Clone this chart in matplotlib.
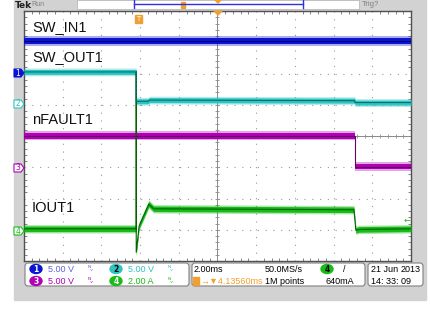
import numpy as np
import matplotlib
matplotlib.use("Agg")
import matplotlib.pyplot as plt
from matplotlib.patches import Rectangle, FancyBboxPatch, Ellipse, Polygon

# scope traces, time in ms (2 ms/div), level in divisions from screen centre
t_in = [-10, 10]
sw_in = [3.04, 3.04]

t_out = [-10, -4.2, -4.2, -3.6, -3.5, 7.1, 7.1, 10]
sw_out = [2.05, 2.05, 1.11, 1.11, 1.15, 1.13, 1.07, 1.07]

t_flt = [-10, 7.1, 7.1, 10]
nfault = [0.01, 0.01, -0.98, -0.98]

t_iout = [-10, -4.2, -4.2, -4.2, -4.05, -3.55, -3.3, 7.05, 7.15, 7.3, 10]
iout = [-2.97, -2.97, 2.05, -3.72, -2.88, -2.18, -2.33, -2.36, -3.02, -2.99, -2.97]

labels = ["SW_IN1", "SW_OUT1", "nFAULT1", "IOUT1"]
label_px_y = [31, 61, 124, 212]

ch_names = ["1", "2", "3", "4"]
ch_scale = ["5.00 V", "5.00 V", "5.00 V", "2.00 A"]
ch_marker_y = [73, 104, 168, 231]

timebase = "2.00ms"
trig_pos = "4.13560ms"
sample_rate = "50.0MS/s"
rec_len = "1M points"
trig_level = "640mA"
date_str = "21 Jun"
year_str = "2013"
time_str = "14: 33: 09"

c_blue, c_blue_d = "#0a14d2", "#000078"
c_cyan, c_cyan_d = "#2ec4c4", "#007070"
c_purp, c_purp_d = "#b000b4", "#6a006c"
c_green, c_green_d = "#18bc18", "#006400"
c_orange = "#f0a030"
narrow = ["Liberation Sans Narrow", "DejaVu Sans Condensed", "Liberation Sans", "DejaVu Sans"]

W, H = 431, 310
fig = plt.figure(figsize=(W / 100, H / 100), dpi=100)
fig.patch.set_facecolor("white")

# background axes in pixel units
bg = fig.add_axes([0, 0, 1, 1])
bg.set_xlim(0, W)
bg.set_ylim(H, 0)
bg.axis("off")
bg.add_patch(Rectangle((14, 0), 412, 300, color="#d2d2d2", zorder=0))

# scope screen
ax = fig.add_axes([24 / W, 1 - 261 / H, 387 / W, 250 / H])
ax.set_xlim(-10, 10)
ax.set_ylim(-4, 4)
ax.set_facecolor("white")
ax.set_xticks(np.arange(-10, 10.1, 2))
ax.set_yticks(np.arange(-4, 4.1, 1))
ax.set_xticks(np.arange(-10, 10.1, 0.4), minor=True)
ax.set_yticks(np.arange(-4, 4.1, 0.2), minor=True)
ax.tick_params(which="both", direction="in", top=True, right=True,
               labelbottom=False, labelleft=False, color="#707070")
ax.tick_params(which="major", length=0)
ax.tick_params(which="minor", length=2.5, width=0.6)
ax.grid(True, which="major", color="#9a9a9a", ls=(0, (1, 6)), lw=0.8)
for s in ax.spines.values():
    s.set_color("#505050")
    s.set_linewidth(1)
ax.plot(np.arange(-10, 10.01, 0.4), np.zeros(51), color="#8a8a8a", lw=0.7,
        marker="|", ms=3, mew=0.6)
ax.plot(np.zeros(41), np.arange(-4, 4.01, 0.2), color="#8a8a8a", lw=0.7,
        marker="_", ms=3, mew=0.6)


def trace(t, v, band, core, half):
    v = np.asarray(v)
    # faint noise envelope, solid band, darker centre
    ax.fill_between(t, v - half - 0.045, v + half + 0.045, color=band, alpha=0.35, lw=0, zorder=3)
    ax.fill_between(t, v - half, v + half, color=band, lw=0, zorder=3)
    ax.plot(t, v, color=core, lw=0.8, zorder=4)


trace(t_iout, iout, c_green, c_green_d, 0.09)
trace(t_flt, nfault, c_purp, c_purp_d, 0.09)
trace(t_out, sw_out, c_cyan, c_cyan_d, 0.08)
trace(t_in, sw_in, c_blue, c_blue_d, 0.1)

# overlay axes in pixel units, above the screen
fg = fig.add_axes([0, 0, 1, 1])
fg.set_xlim(0, W)
fg.set_ylim(H, 0)
fg.axis("off")
fg.patch.set_alpha(0)

# top status bar
fg.add_patch(Rectangle((77, 0), 282, 9, facecolor="white", edgecolor="#b0b0b0", lw=0.5))
fg.plot([134, 303], [4, 4], color="#3030e0", lw=1)
fg.plot([134, 134], [0, 8], color="#3030e0", lw=1)
fg.plot([303, 303], [0, 8], color="#3030e0", lw=1)
fg.add_patch(Rectangle((181, 2), 4, 6, color=c_orange))
fg.add_patch(Polygon([[215, 0], [221, 0], [218, 3]], color=c_orange))
fg.text(15, 5, "Tek", fontsize=6.5, fontweight="bold", va="center", color="#202020")
fg.text(31, 5, "Run", fontsize=5, va="center", color="#808080", family=narrow)
fg.text(362, 5, "Trig?", fontsize=5.5, va="center", color="#808080", family=narrow)

for lab, py in zip(labels, label_px_y):
    fg.text(32, py, lab, fontsize=10.5, family=["Liberation Sans", "DejaVu Sans"],
            va="baseline", color="#101010", zorder=10)

# trigger markers
fg.add_patch(Rectangle((135, 15), 7, 8, color=c_orange, zorder=10))
fg.text(138.5, 19, "T", fontsize=5, color="white", ha="center", va="center", zorder=11)
fg.add_patch(Polygon([[214, 11], [222, 11], [218, 15]], color=c_orange, zorder=10))

# channel ground markers on the left
ch_cols = [c_blue, c_cyan, c_purp, c_green]
for i, (nm, py) in enumerate(zip(ch_names, ch_marker_y)):
    fill = ch_cols[i] if i == 0 else "white"
    fg.add_patch(Polygon([[14, py - 4], [21, py - 4], [24, py], [21, py + 4], [14, py + 4]],
                         facecolor=fill, edgecolor=ch_cols[i], lw=0.8, zorder=10))
    fg.text(18, py, nm, fontsize=5.5, ha="center", va="center",
            color="white" if i == 0 else ch_cols[i], zorder=11)
fg.text(407, 220, "←", fontsize=6, color=c_green, ha="center", va="center", zorder=11)

# bottom readout boxes
for x0, x1 in [(25, 189), (192, 365), (368, 423)]:
    fg.add_patch(FancyBboxPatch((x0, 263), x1 - x0, 23, boxstyle="round,pad=0,rounding_size=3",
                                facecolor="white", edgecolor="#808080", lw=0.8, zorder=5))

rows = [269, 281]
pos = [(36, rows[0]), (116, rows[0]), (36, rows[1]), (116, rows[1])]
scale_cols = ["#6060e0", c_cyan, c_purp, c_green]
for i, (cx, cy) in enumerate(pos):
    fg.add_patch(Ellipse((cx, cy), 12, 9, color=ch_cols[i], zorder=6))
    fg.text(cx, cy, ch_names[i], fontsize=5.5, fontweight="bold", ha="center", va="center",
            color="black" if i == 1 else "white", zorder=7)
    fg.text(cx + 12, cy, ch_scale[i], fontsize=6.5, ha="left", va="center",
            color=scale_cols[i], family=narrow, zorder=7)
    fg.text(cx + 55, cy, "ᴺᵥ", fontsize=5, ha="center", va="center",
            color=scale_cols[i], zorder=7)

fg.text(194, rows[0], timebase, fontsize=6.5, va="center", family=narrow, zorder=7)
fg.add_patch(Rectangle((193, rows[1] - 4), 6, 8, color=c_orange, zorder=6))
fg.text(200, rows[1], "→▼" + trig_pos, fontsize=6.5, va="center", color=c_orange,
        family=narrow, zorder=7)
fg.text(265, rows[0], sample_rate, fontsize=6.5, va="center", family=narrow, zorder=7)
fg.text(265, rows[1], rec_len, fontsize=6.5, va="center", family=narrow, zorder=7)
fg.add_patch(Ellipse((327, rows[0]), 12, 9, color=c_green, zorder=6))
fg.text(327, rows[0], "4", fontsize=5.5, fontweight="bold", ha="center", va="center",
        color="black", zorder=7)
fg.text(343, rows[0], "/", fontsize=6.5, va="center", family=narrow, zorder=7)
fg.text(326, rows[1], trig_level, fontsize=6.5, va="center", family=narrow, zorder=7)
fg.text(371, rows[0], date_str, fontsize=6.5, va="center", family=narrow, zorder=7)
fg.text(421, rows[0], year_str, fontsize=6.5, va="center", ha="right", family=narrow, zorder=7)
fg.text(371, rows[1], time_str, fontsize=6.5, va="center", family=narrow, zorder=7)

fig.savefig("out.png", dpi=100)
